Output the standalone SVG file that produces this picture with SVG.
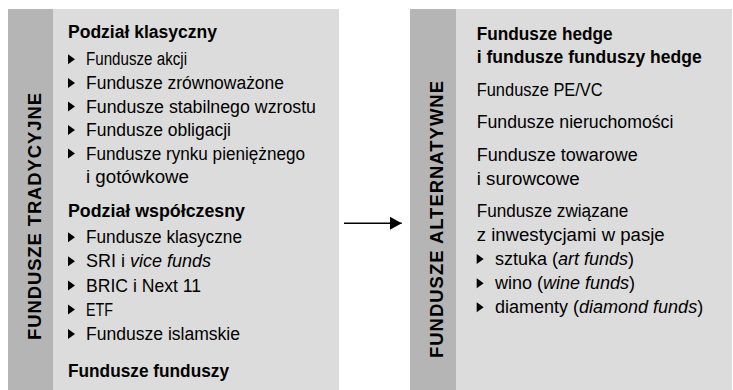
<svg xmlns="http://www.w3.org/2000/svg" width="733" height="390" viewBox="0 0 733 390">
<style>
.panel{fill:#dcdcdc}
.strip{fill:#b5b5b5}
text{font-family:"Liberation Sans",Arial,sans-serif;font-size:18px;fill:#000}
.b{font-weight:bold}
.v{font-weight:bold;font-size:18.5px;text-anchor:middle}
.i{font-style:italic}
.con{stroke:#000;stroke-width:1.4;fill:none}
</style>
<defs>
<path id="tri" d="M0,-5 L7,0 L0,5Z" fill="#000"/>
<marker id="ah" markerWidth="12" markerHeight="13" refX="11.7" refY="6.5" orient="auto" markerUnits="userSpaceOnUse">
<path d="M0,0 L11.7,6.5 L0,13Z" fill="#000"/>
</marker>
</defs>

<g id="node-tradycyjne">
<rect class="panel" x="8" y="9" width="331" height="381"/>
<rect class="strip" x="8" y="9" width="45" height="381"/>
<text class="v" transform="translate(41,216.5) rotate(-90)" textLength="247" lengthAdjust="spacing">FUNDUSZE TRADYCYJNE</text>
<text class="b" x="68" y="37.5" textLength="149" lengthAdjust="spacingAndGlyphs">Podział klasyczny</text>
<use href="#tri" x="68" y="59.3"/>
<text x="86" y="65.3" textLength="101" lengthAdjust="spacingAndGlyphs">Fundusze akcji</text>
<use href="#tri" x="68" y="83"/>
<text x="86" y="89" textLength="198" lengthAdjust="spacingAndGlyphs">Fundusze zrównoważone</text>
<use href="#tri" x="68" y="106.5"/>
<text x="86" y="112.5" textLength="230" lengthAdjust="spacingAndGlyphs">Fundusze stabilnego wzrostu</text>
<use href="#tri" x="68" y="130"/>
<text x="86" y="136" textLength="145" lengthAdjust="spacingAndGlyphs">Fundusze obligacji</text>
<use href="#tri" x="68" y="153.5"/>
<text x="86" y="159.5" textLength="219" lengthAdjust="spacingAndGlyphs">Fundusze rynku pieniężnego</text>
<text x="86" y="183" textLength="103" lengthAdjust="spacingAndGlyphs">i gotówkowe</text>
<text class="b" x="68" y="217" textLength="177" lengthAdjust="spacingAndGlyphs">Podział współczesny</text>
<use href="#tri" x="68" y="237.3"/>
<text x="86" y="243.3" textLength="156" lengthAdjust="spacingAndGlyphs">Fundusze klasyczne</text>
<use href="#tri" x="68" y="261.3"/>
<text x="86" y="267.3">SRI i <tspan class="i">vice funds</tspan></text>
<use href="#tri" x="68" y="285.5"/>
<text x="86" y="291.5" textLength="115" lengthAdjust="spacingAndGlyphs">BRIC i Next 11</text>
<use href="#tri" x="68" y="309.5"/>
<text x="86" y="315.5" textLength="27" lengthAdjust="spacingAndGlyphs">ETF</text>
<use href="#tri" x="68" y="334"/>
<text x="86" y="340" textLength="154" lengthAdjust="spacingAndGlyphs">Fundusze islamskie</text>
<text class="b" x="68" y="377" textLength="161" lengthAdjust="spacingAndGlyphs">Fundusze funduszy</text>
</g>

<g id="node-alternatywne">
<rect class="panel" x="410" y="9" width="322" height="381"/>
<rect class="strip" x="410" y="9" width="46" height="381"/>
<text class="v" transform="translate(443,219.5) rotate(-90)" textLength="277" lengthAdjust="spacing">FUNDUSZE ALTERNATYWNE</text>
<text class="b" x="476.7" y="40" textLength="136" lengthAdjust="spacingAndGlyphs">Fundusze hedge</text>
<text class="b" x="476.7" y="63.3" textLength="225" lengthAdjust="spacingAndGlyphs">i fundusze funduszy hedge</text>
<text x="476.7" y="96" textLength="126" lengthAdjust="spacingAndGlyphs">Fundusze PE/VC</text>
<text x="476.7" y="128.3" textLength="196.7" lengthAdjust="spacingAndGlyphs">Fundusze nieruchomości</text>
<text x="476.7" y="160.7" textLength="161" lengthAdjust="spacingAndGlyphs">Fundusze towarowe</text>
<text x="476.7" y="185" textLength="103" lengthAdjust="spacingAndGlyphs">i surowcowe</text>
<text x="476.7" y="216.7" textLength="151.7" lengthAdjust="spacingAndGlyphs">Fundusze związane</text>
<text x="476.7" y="240.7" textLength="188" lengthAdjust="spacingAndGlyphs">z inwestycjami w pasje</text>
<use href="#tri" x="476.7" y="259"/>
<text x="495" y="265">sztuka (<tspan class="i">art funds</tspan>)</text>
<use href="#tri" x="476.7" y="283.3"/>
<text x="495" y="289.3">wino (<tspan class="i">wine funds</tspan>)</text>
<use href="#tri" x="476.7" y="307.3"/>
<text x="495" y="313.3">diamenty (<tspan class="i">diamond funds</tspan>)</text>
</g>

<g id="connectors">
<line class="con" x1="344" y1="223.3" x2="401.7" y2="223.3" marker-end="url(#ah)"/>
</g>
</svg>
